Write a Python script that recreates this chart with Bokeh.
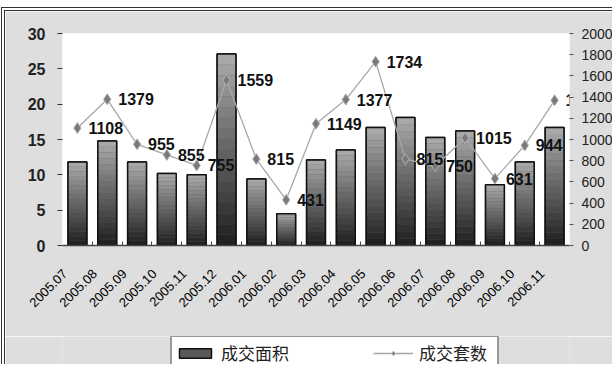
import math
from bokeh.plotting import figure
from bokeh.layouts import column
from bokeh.models import (Range1d, LinearAxis, FixedTicker, ColumnDataSource,
                          Legend, LegendItem, LabelSet)
from bokeh.embed import file_html
from bokeh.resources import INLINE
from bokeh.core.properties import value

# ---- data ----
months = ["2005.07", "2005.08", "2005.09", "2005.10", "2005.11", "2005.12",
          "2006.01", "2006.02", "2006.03", "2006.04", "2006.05", "2006.06",
          "2006.07", "2006.08", "2006.09", "2006.10", "2006.11"]
area = [11.8, 14.8, 11.8, 10.2, 10.0, 27.1, 9.4, 4.5, 12.1, 13.5, 16.7, 18.1,
        15.3, 16.2, 8.6, 11.8, 16.7]
units = [1108, 1379, 955, 855, 755, 1559, 815, 431, 1149, 1377, 1734, 815,
         750, 1015, 631, 944, 1370]
left_ticks = [0, 5, 10, 15, 20, 25, 30]
right_ticks = [0, 200, 400, 600, 800, 1000, 1200, 1400, 1600, 1800, 2000]
series_names = ["成交面积", "成交套数"]

BG = "#dedede"
NUM_FONT = "Liberation Sans"
CJK_FONT = "Noto Sans CJK SC"

n = len(months)
xc = [i + 0.5 for i in range(n)]          # category centres
xl = [i + 0.08 for i in range(n)]         # rotated-label anchors

p = figure(width=611, height=329, x_range=Range1d(0, n),
           y_range=Range1d(0, 30), output_backend="svg", toolbar_location=None,
           x_axis_location=None, y_axis_location=None,
           min_border_left=57, min_border_right=47, min_border_top=22,
           min_border_bottom=95)
p.styles = {"margin-top": "7px", "margin-left": "1px",
            "border-top": "4px double #333", "border-left": "4px double #333"}
p.background_fill_color = "white"
p.border_fill_color = BG
p.outline_line_color = None
p.xgrid.visible = False
p.ygrid.visible = False
p.extra_y_ranges = {"right": Range1d(0, 2000)}

# axes
ly = LinearAxis(ticker=FixedTicker(ticks=left_ticks))
ly.axis_line_color = None
ly.major_tick_out = 5
ly.major_tick_in = 0
ly.minor_tick_line_color = None
ly.major_tick_line_color = "#333"
ly.major_label_standoff = 12
ly.major_label_text_font = NUM_FONT
ly.major_label_text_font_style = "bold"
ly.major_label_text_font_size = "16px"
ly.major_label_text_color = "#222"
p.add_layout(ly, "left")

ry = LinearAxis(y_range_name="right", ticker=FixedTicker(ticks=right_ticks))
ry.axis_line_color = None
ry.major_tick_out = 4
ry.major_tick_in = 0
ry.minor_tick_line_color = None
ry.major_tick_line_color = "#555"
ry.major_label_standoff = 8
ry.major_label_text_font = NUM_FONT
ry.major_label_text_font_size = "14px"
ry.major_label_text_color = "#222"
p.add_layout(ry, "right")

tx = LinearAxis(ticker=FixedTicker(ticks=list(range(1, n))))
tx.axis_line_color = "#444"
tx.axis_line_width = 1.5
tx.major_tick_in = 4
tx.major_tick_out = 0
tx.minor_tick_line_color = None
tx.major_tick_line_color = "#444"
tx.major_label_text_font_size = "1px"
tx.major_label_text_color = None
tx.major_label_standoff = 0
p.add_layout(tx, "below")

cx = LinearAxis(ticker=FixedTicker(ticks=xl))
cx.major_label_overrides = {x: m for x, m in zip(xl, months)}
cx.axis_line_color = None
cx.major_tick_line_color = None
cx.minor_tick_line_color = None
cx.major_tick_out = 0
cx.major_tick_in = 0
cx.major_label_orientation = math.pi / 4
cx.major_label_standoff = 26
cx.major_label_text_font = NUM_FONT
cx.major_label_text_font_size = "13px"
cx.major_label_text_color = "#000"
p.add_layout(cx, "below")

# bars with a vertical gradient built from stacked bands
src = ColumnDataSource(dict(x=xc, area=area, units=units,
                            ulab=[str(u) for u in units]))
BAR_STYLE = dict(fill_color="#5a5a5a", line_color="#111", line_width=1.5)
LINE_STYLE = dict(line_color="#a8a8a8", line_width=1.3)
MK_STYLE = dict(marker="diamond", size=11, fill_color="#7a7a7a",
                line_color="#b0b0b0", line_width=1)

p.vbar(x="x", top="area", bottom=0, width=0.63, source=src, **BAR_STYLE)
N = 18
dark = (0x22, 0x22, 0x22)
light = (0xa8, 0xa8, 0xa8)
bx, bb, bt, bc = [], [], [], []
for x, a in zip(xc, area):
    for k in range(N):
        t = k / (N - 1)
        col = tuple(int(dark[j] + (light[j] - dark[j]) * t) for j in range(3))
        bx.append(x)
        bb.append(a * k / N)
        bt.append(a * (k + 1) / N)
        bc.append("#%02x%02x%02x" % col)
p.vbar(x=bx, bottom=bb, top=bt, width=0.63, fill_color=bc, line_color=None)
p.vbar(x="x", top="area", bottom=0, width=0.63, source=src,
       fill_color=None, line_color="#111", line_width=1.5)

# line
p.line(x="x", y="units", source=src, y_range_name="right", **LINE_STYLE)
p.scatter(x="x", y="units", source=src, y_range_name="right", **MK_STYLE)

labels = LabelSet(x="x", y="units", text="ulab", source=src, y_range_name="right",
                  x_offset=11, y_offset=0, text_baseline="middle",
                  text_font=value(NUM_FONT), text_font_style="bold",
                  text_font_size="16px", text_color="#111")
p.add_layout(labels)

# ---- legend strip (same series as hidden renderers; only the legend shows) ----
lg = figure(width=611, height=28, x_range=p.x_range, y_range=Range1d(-20, -10),
            output_backend="svg", toolbar_location=None,
            x_axis_location=None, y_axis_location=None,
            min_border_left=0, min_border_right=0, min_border_top=0,
            min_border_bottom=0)
lg.styles = {"margin-left": "1px", "border-left": "4px double #333"}
lg.background_fill_color = BG
lg.border_fill_color = BG
lg.outline_line_color = None
lg.xgrid.visible = False
lg.ygrid.visible = False
lb = lg.vbar(x="x", top="area", bottom=0, width=0.63, source=src, **BAR_STYLE)
ll = lg.line(x="x", y="units", source=src, **LINE_STYLE)
lm = lg.scatter(x="x", y="units", source=src, **MK_STYLE)
for r in (lb, ll, lm):
    r.visible = False

legend = Legend(items=[LegendItem(label=series_names[0], renderers=[lb]),
                       LegendItem(label=series_names[1], renderers=[ll, lm])],
                orientation="horizontal", location=(108, -6), margin=0,
                glyph_width=40, glyph_height=12, label_standoff=6, spacing=77,
                label_width=75, padding=3, label_text_font=CJK_FONT,
                label_text_font_size="17px", label_text_color="#222",
                background_fill_color="white", background_fill_alpha=1.0,
                border_line_color="#333", border_line_width=2,
                inactive_fill_alpha=0.0, click_policy="none")
lg.add_layout(legend, "center")

layout = column(p, lg, spacing=0)
open("out.html", "w").write(file_html(layout, INLINE))
